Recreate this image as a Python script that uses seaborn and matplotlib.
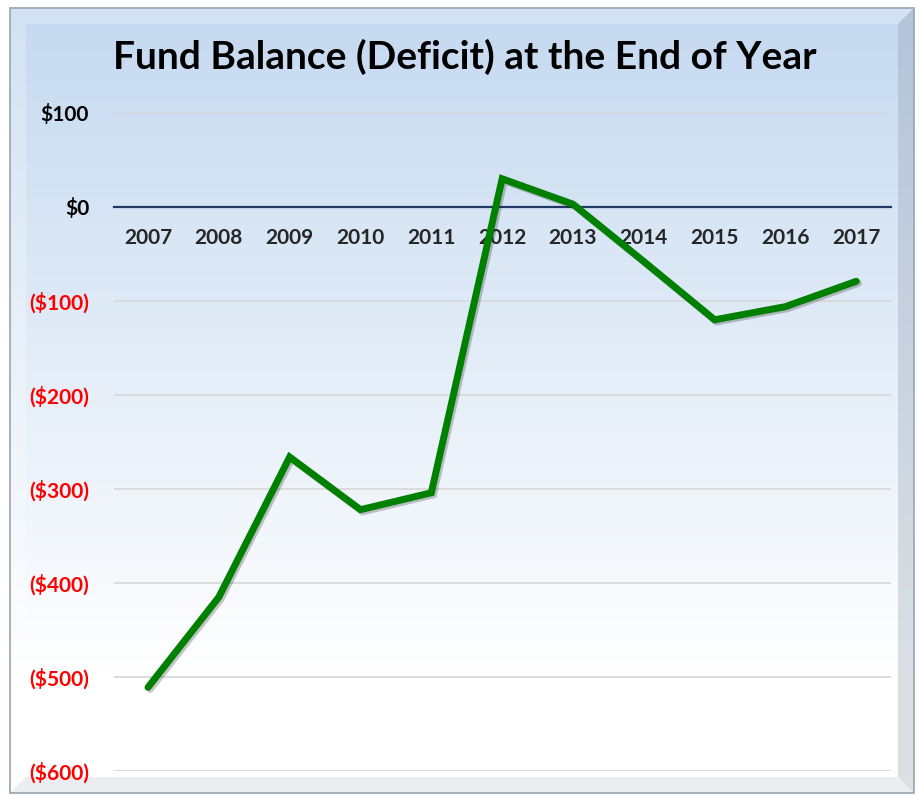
import numpy as np
import pandas as pd
import matplotlib
matplotlib.use("Agg")
import matplotlib.pyplot as plt
import seaborn as sns
from matplotlib import patheffects
from matplotlib.patches import Rectangle, Polygon

# Data (thousands of dollars)
years = [2007, 2008, 2009, 2010, 2011, 2012, 2013, 2014, 2015, 2016, 2017]
balance = [-511, -415, -266, -322, -304, 30, 3, -58, -120, -106, -79]
y_ticks = [100, 0, -100, -200, -300, -400, -500, -600]

df = pd.DataFrame({'Year': years, 'Balance': balance})

sns.set_theme(style='white')
plt.rcParams['font.family'] = ['Lato', 'DejaVu Sans']

W, H = 919, 795
fig = plt.figure(figsize=(W / 100, H / 100), dpi=100)
fig.patch.set_facecolor('white')

# --- background panel with gradient + bevel frame ---
bg = fig.add_axes([0, 0, 1, 1], zorder=0)
bg.set_xlim(0, W)
bg.set_ylim(H, 0)
bg.axis('off')
x0, x1, y0, y1 = 10, 914, 8, 793
top_c = np.array([0.77, 0.85, 0.94])
bot_c = np.array([1.0, 1.0, 1.0])
t = np.linspace(0, 1, 256)[:, None]
t = np.clip(t / 0.85, 0, 1)
grad = top_c * (1 - t[..., None]) + bot_c * t[..., None]
grad = np.repeat(grad, 2, axis=1)
bg.imshow(grad, extent=[x0, x1, y1, y0], aspect='auto', zorder=0)
# bevel sides
b = 16
bg.add_patch(Polygon([[x1, y0], [x1, y1], [x1 - b, y1 - b], [x1 - b, y0 + b]],
                     closed=True, facecolor='#8a97a8', alpha=0.3, lw=0, zorder=1))
bg.add_patch(Polygon([[x0, y1], [x1, y1], [x1 - b, y1 - b], [x0 + b, y1 - b]],
                     closed=True, facecolor='#c0c6cf', alpha=0.3, lw=0, zorder=1))
bg.add_patch(Polygon([[x0, y0], [x0, y1], [x0 + b, y1 - b], [x0 + b, y0 + b]],
                     closed=True, facecolor='white', alpha=0.25, lw=0, zorder=1))
bg.add_patch(Polygon([[x0, y0], [x1, y0], [x1 - b, y0 + b], [x0 + b, y0 + b]],
                     closed=True, facecolor='white', alpha=0.25, lw=0, zorder=1))
bg.add_patch(Rectangle((x0, y0), x1 - x0, y1 - y0, fill=False,
                       edgecolor='#9aa3ad', lw=1.2, zorder=2))

# --- main chart ---
ax = fig.add_axes([114 / W, 24 / H, 777 / W, 658 / H], zorder=1)
ax.patch.set_alpha(0)

sns.lineplot(data=df, x='Year', y='Balance', ax=ax, color='#008000',
             linewidth=5, solid_joinstyle='miter', solid_capstyle='round',
             path_effects=[patheffects.SimpleLineShadow(offset=(1.5, -1.5), alpha=0.25),
                           patheffects.Normal()],
             zorder=5)

# spine at zero first (moving it resets the ticks)
for s in ['left', 'right', 'top']:
    ax.spines[s].set_visible(False)
ax.spines['bottom'].set_position(('data', 0))
ax.spines['bottom'].set_color('#1f3864')
ax.spines['bottom'].set_linewidth(1.6)
ax.spines['bottom'].set_zorder(4)

ax.set_xlim(2006.52, 2017.49)
ax.set_ylim(-600, 100)
ax.set_yticks(y_ticks)
labels = ['$%d' % v if v >= 0 else '($%d)' % -v for v in y_ticks]
ax.set_yticklabels(labels, fontweight='bold', fontsize=15)
for lab, v in zip(ax.get_yticklabels(), y_ticks):
    lab.set_color('black' if v >= 0 else '#ff0000')
ax.set_xticks(years)
ax.set_xticklabels([str(y) for y in years], fontweight='bold', fontsize=15)

ax.yaxis.grid(True, color='#d9d9d9', linewidth=1.3)
ax.xaxis.grid(False)
ax.tick_params(axis='x', length=0, pad=15)
ax.tick_params(axis='y', length=0, pad=18)
ax.set_xlabel('')
ax.set_ylabel('')

fig.text(465 / W, 1 - 57 / H, 'Fund Balance (Deficit) at the End of Year',
         ha='center', va='center', fontsize=28, fontweight='bold', color='black')

fig.savefig('out.png', dpi=100)
